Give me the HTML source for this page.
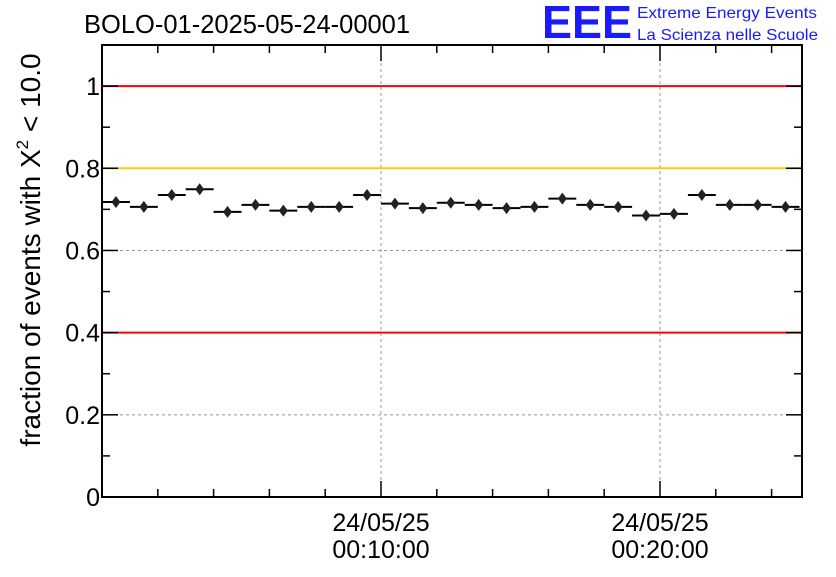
<!DOCTYPE html>
<html><head><meta charset="utf-8"><style>
body{margin:0;background:#fff;width:836px;height:572px;overflow:hidden}
svg text{font-family:"Liberation Sans",sans-serif}
</style></head><body>
<svg width="836" height="572">
<text x="84" y="33" font-size="25.5">BOLO-01-2025-05-24-00001</text>
<g>
<text x="542" y="38" font-size="46" font-weight="bold" fill="#1a1aff" textLength="90" lengthAdjust="spacingAndGlyphs">EEE</text>
<text x="637" y="18" font-size="16" fill="#1a1aff" textLength="180" lengthAdjust="spacingAndGlyphs">Extreme Energy Events</text>
<text x="637" y="40" font-size="16" fill="#1a1aff" textLength="181" lengthAdjust="spacingAndGlyphs">La Scienza nelle Scuole</text>
</g>
<g id="plot"></g>
<text transform="translate(40,250) rotate(-90)" text-anchor="middle" font-size="28">fraction of events with X<tspan dy="-12" font-size="17">2</tspan><tspan dy="12"> &lt; 10.0</tspan></text>
</svg>
<script>
const values=[0.718,0.706,0.735,0.749,0.694,0.711,0.697,0.706,0.706,0.735,0.714,0.703,0.716,0.711,0.703,0.706,0.726,0.711,0.706,0.685,0.689,0.735,0.711,0.711,0.706];
const errors=[0.018,0.018,0.018,0.018,0.018,0.018,0.018,0.018,0.018,0.018,0.018,0.018,0.018,0.018,0.018,0.018,0.018,0.018,0.018,0.018,0.018,0.018,0.018,0.018,0.018];
const yTicks=[0,0.2,0.4,0.6,0.8,1];
const yTickLabels=["0","0.2","0.4","0.6","0.8","1"];
const xTicks=[10,20];
const xTickLabels=[["24/05/25","00:10:00"],["24/05/25","00:20:00"]];
const refLines=[{v:1,c:"#ff0000"},{v:0.8,c:"#ffcc00"},{v:0.4,c:"#ff0000"}];
const X0=102,X1=802,Y0=497,Y1=45,xMin=0,xMax=25.09,yMin=0,yMax=1.1;
const sx=v=>X0+(v-xMin)/(xMax-xMin)*(X1-X0);
const sy=v=>Y0-(v-yMin)/(yMax-yMin)*(Y0-Y1);
const g=document.getElementById('plot');const NS="http://www.w3.org/2000/svg";
function mk(t,a,p){const e=document.createElementNS(NS,t);for(const k in a)e.setAttribute(k,a[k]);(p||g).appendChild(e);return e;}
yTicks.forEach(v=>{if(v>0&&v<1){const l=mk('line',{x1:X0,x2:X1,y1:sy(v),y2:sy(v),stroke:'#999','stroke-dasharray':'3,3'});

}});
xTicks.forEach(v=>{const l=mk('line',{x1:sx(v),x2:sx(v),y1:Y1,y2:Y0,stroke:'#999','stroke-dasharray':'3,3'});

});
refLines.forEach(r=>{const l=mk('line',{x1:X0,x2:X1,y1:sy(r.v),y2:sy(r.v),stroke:r.c,'stroke-width':2});

});
const f=mk('rect',{x:X0,y:Y1,width:X1-X0,height:Y0-Y1,fill:'none',stroke:'#000','stroke-width':2});


for(let v=0;v<=1.1001;v+=0.1){const major=Math.abs(v*5-Math.round(v*5))<1e-6;const L=major?16:8;
mk('line',{x1:X0,x2:X0+L,y1:sy(v),y2:sy(v),stroke:'#000','stroke-width':1.5});
mk('line',{x1:X1,x2:X1-L,y1:sy(v),y2:sy(v),stroke:'#000','stroke-width':1.5});}
yTicks.forEach((v,i)=>{const t=mk('text',{x:X0-2,y:sy(v)+9,'text-anchor':'end','font-size':25});t.textContent=yTickLabels[i];

});
for(let v=2;v<xMax;v+=2){const major=v%10===0;const L=major?16:8;
mk('line',{x1:sx(v),x2:sx(v),y1:Y0,y2:Y0-L,stroke:'#000','stroke-width':1.5});
mk('line',{x1:sx(v),x2:sx(v),y1:Y1,y2:Y1+L,stroke:'#000','stroke-width':1.5});}
xTicks.forEach((v,i)=>{xTickLabels[i].forEach((s,j)=>{const t=mk('text',{x:sx(v),y:531+j*27,'text-anchor':'middle','font-size':25});t.textContent=s;

});});
const bw=(xMax-xMin)/values.length*(25/25.09);
values.forEach((v,i)=>{const c=xMin+bw*(i+0.5);const y=sy(v);
const grp=mk('g',{});


mk('line',{x1:sx(c-bw/2),x2:sx(c+bw/2),y1:y,y2:y,stroke:'#000','stroke-width':2},grp);
mk('line',{x1:sx(c),x2:sx(c),y1:sy(v-errors[i]/2),y2:sy(v+errors[i]/2),stroke:'#000','stroke-width':2},grp);
const x=sx(c);mk('polygon',{points:`${x},${y-6} ${x+4.5},${y} ${x},${y+6} ${x-4.5},${y}`,fill:'#222'},grp);});
</script>
</body></html>
